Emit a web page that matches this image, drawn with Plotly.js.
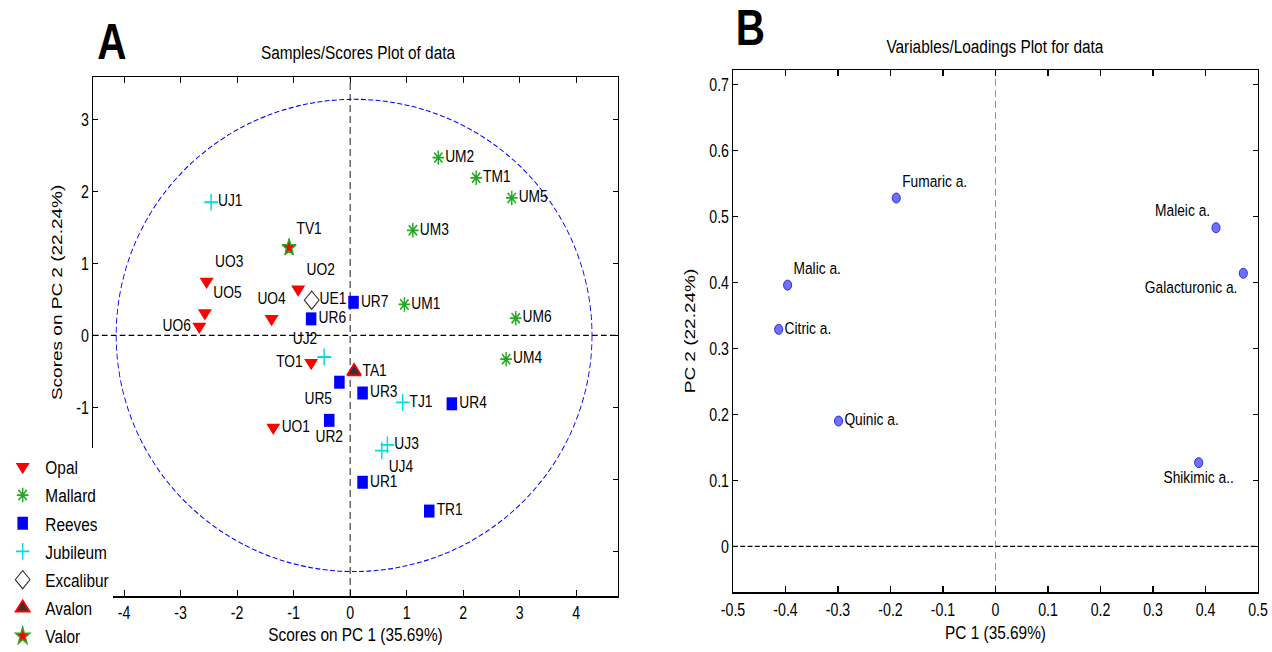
<!DOCTYPE html>
<html>
<head>
<meta charset="utf-8">
<script src="https://cdn.plot.ly/plotly-3.0.1.min.js"></script>
<style>
html,body{margin:0;padding:0;background:#fff;overflow:hidden;width:1272px;height:652px;}
#chart{width:1570px;height:652px;transform:scaleX(0.8102);transform-origin:0 0;}
</style>
</head>
<body>
<div id="chart"></div>
<script>
// ---------- Scores (panel A) ----------
const opalLabels = ['UO1','UO2','UO3','UO4','UO5','UO6','TO1'];
const opalX = [-1.36, -0.92, -2.54, -1.39, -2.57, -2.67, -0.69];
const opalY = [-1.28, 0.64, 0.75, 0.23, 0.31, 0.125, -0.38];

const mallardLabels = ['UM1','UM2','UM3','UM4','UM5','UM6','TM1'];
const mallardX = [0.96, 1.56, 1.11, 2.76, 2.86, 2.93, 2.23];
const mallardY = [0.43, 2.47, 1.46, -0.33, 1.91, 0.24, 2.19];

const reevesLabels = ['UR1','UR2','UR3','UR4','UR5','UR6','UR7','TR1'];
const reevesX = [0.22, -0.37, 0.22, 1.80, -0.19, -0.69, 0.06, 1.40];
const reevesY = [-2.04, -1.18, -0.80, -0.95, -0.65, 0.23, 0.46, -2.44];

const jubileumLabels = ['UJ1','UJ2','UJ3','UJ4','TJ1'];
const jubileumX = [-2.46, -0.46, 0.66, 0.56, 0.93];
const jubileumY = [1.85, -0.30, -1.52, -1.60, -0.93];

const excaliburLabels = ['UE1'];
const excaliburX = [-0.68];
const excaliburY = [0.49];

const avalonLabels = ['TA1'];
const avalonX = [0.07];
const avalonY = [-0.50];

const valorLabels = ['TV1'];
const valorX = [-1.08];
const valorY = [1.22];

const scoreXTicks = [-4, -3, -2, -1, 0, 1, 2, 3, 4];
const scoreXTickText = ['-4','-3','-2','-1','0','1','2','3','4'];
const scoreYTicks = [-3, -2, -1, 0, 1, 2, 3];
const scoreYTickText = ['','','-1','0','1','2','3'];

// ---------- Loadings (panel B) ----------
const variables = ['Fumaric a.','Maleic a.','Galacturonic a.','Malic a.','Citric a.','Quinic a.','Shikimic a..'];
const loadPC1 = [-0.189, 0.420, 0.472, -0.396, -0.413, -0.299, 0.387];
const loadPC2 = [0.528, 0.483, 0.414, 0.396, 0.329, 0.190, 0.127];

const loadXTicks = [-0.5,-0.4,-0.3,-0.2,-0.1,0,0.1,0.2,0.3,0.4,0.5];
const loadXTickText = ['-0.5','-0.4','-0.3','-0.2','-0.1','0','0.1','0.2','0.3','0.4','0.5'];
const loadYTicks = [0,0.1,0.2,0.3,0.4,0.5,0.6,0.7];
const loadYTickText = ['0','0.1','0.2','0.3','0.4','0.5','0.6','0.7'];

// ---------- styles ----------
const FONT = 'Liberation Sans, Arial, sans-serif';
const W = 1272, H = 652;
const labelPos = {
  UO2:'top right', UO3:'top right', UO4:'top center', UO5:'top right',
  UO6:'middle left', TO1:'middle left', UJ2:'top left', UR5:'bottom left',
  UR2:'bottom center', UJ4:'bottom right', TV1:'top right'
};
const varPos = {
  'Fumaric a.':'top right', 'Maleic a.':'top left', 'Galacturonic a.':'bottom left',
  'Malic a.':'top right', 'Citric a.':'middle right', 'Quinic a.':'middle right',
  'Shikimic a..':'bottom center'
};
function pos(labels){ return labels.map(l => labelPos[l] || 'middle right'); }

function group(name, labels, x, y, marker){
  return {
    type:'scatter', mode:'markers+text', name:name, legendgroup:name,
    x:x, y:y, text:labels, textposition:pos(labels),
    textfont:{family:FONT, size:17, color:'#000'},
    marker:marker, xaxis:'x', yaxis:'y', cliponaxis:false, hoverinfo:'text'
  };
}

const traces = [
  group('Opal', opalLabels, opalX, opalY, {symbol:'triangle-down', size:15, color:'#ff0000', line:{width:0}}),
  group('Mallard', mallardLabels, mallardX, mallardY, {symbol:'asterisk-open', size:12, color:'#22aa22', line:{color:'#22aa22', width:1.8}}),
  group('Reeves', reevesLabels, reevesX, reevesY, {symbol:'square', size:13, color:'#0000ff', line:{width:0}}),
  group('Jubileum', jubileumLabels, jubileumX, jubileumY, {symbol:'cross-thin-open', size:12, color:'#00dddd', line:{color:'#11dddd', width:1.8}}),
  group('Excalibur', excaliburLabels, excaliburX, excaliburY, {symbol:'diamond-open', size:14, color:'#333333', line:{color:'#333333', width:1.3}}),
  group('Avalon', avalonLabels, avalonX, avalonY, {symbol:'triangle-up', size:15, color:'#333333', line:{color:'#ff0000', width:2}}),
  group('Valor', valorLabels, valorX, valorY, {symbol:'star', size:13, color:'#ff0000', line:{color:'#22aa22', width:1.6}}),
  {
    type:'scatter', mode:'markers+text', name:'Loadings', showlegend:false,
    x:loadPC1, y:loadPC2, text:variables, textposition:variables.map(v => varPos[v]),
    textfont:{family:FONT, size:17, color:'#000'},
    marker:{symbol:'circle', size:10, color:'#7070ff', line:{color:'#2020cc', width:1}},
    xaxis:'x2', yaxis:'y2', cliponaxis:false, hoverinfo:'text'
  }
];

const axisBase = {
  showline:true, linecolor:'#000', linewidth:1.5, mirror:'ticks',
  ticks:'inside', ticklen:6, tickwidth:1.3, tickcolor:'#000',
  showgrid:false, zeroline:false, tickmode:'array',
  tickfont:{family:FONT, size:17.5, color:'#000'}
};

const layout = {
  width:1570, height:H, paper_bgcolor:'#fff', plot_bgcolor:'#fff',
  margin:{l:0, r:0, t:0, b:0, autoexpand:false},
  font:{family:FONT, color:'#000'},
  showlegend:true,
  legend:{x:0, xanchor:'left', y:-3/H, yanchor:'bottom', bgcolor:'#ffffff', borderwidth:0,
          font:{family:FONT, size:19, color:'#000'}, tracegroupgap:0.5, itemwidth:46},
  xaxis:Object.assign({}, axisBase, {domain:[93/W, 618/W], range:[-4.55, 4.74], anchor:'y',
          tickvals:scoreXTicks, ticktext:scoreXTickText, ticklabelstandoff:1,
          title:{text:'Scores on PC 1 (35.69%)', font:{family:FONT, size:19, color:'#000'}, standoff:5}}),
  yaxis:Object.assign({}, axisBase, {domain:[1-596/H, 1-77/H], range:[-3.62, 3.59], anchor:'x',
          tickvals:scoreYTicks, ticktext:scoreYTickText}),
  xaxis2:Object.assign({}, axisBase, {domain:[733/W, 1258/W], range:[-0.5, 0.5], anchor:'y2',
          tickvals:loadXTicks, ticktext:loadXTickText, ticklabelstandoff:2,
          title:{text:'PC 1 (35.69%)', font:{family:FONT, size:19, color:'#000'}, standoff:6}}),
  yaxis2:Object.assign({}, axisBase, {domain:[1-592/H, 1-70/H], range:[-0.069, 0.722], anchor:'x2',
          tickvals:loadYTicks, ticktext:loadYTickText,
          title:{text:'PC 2 (22.24%)', font:{family:FONT, size:19, color:'#000'}, standoff:12}}),
  shapes:[
    {type:'line', xref:'x', yref:'y domain', x0:0, x1:0, y0:0, y1:1, line:{color:'#000', width:1.1, dash:'7px,4px'}, layer:'below'},
    {type:'line', xref:'x domain', yref:'y', x0:0, x1:1, y0:0, y1:0, line:{color:'#000', width:1.1, dash:'7px,4px'}, layer:'below'},
    {type:'circle', xref:'x', yref:'y', x0:-4.14, x1:4.28, y0:-3.28, y1:3.28, line:{color:'#0000ff', width:1.1, dash:'6px,3px'}, layer:'below'},
    {type:'line', xref:'x2', yref:'y2 domain', x0:0, x1:0, y0:0, y1:1, line:{color:'#888', width:1, dash:'7px,4px'}, layer:'below'},
    {type:'line', xref:'x2 domain', yref:'y2', x0:0, x1:1, y0:0, y1:0, line:{color:'#000', width:1.3, dash:'6px,3px'}, layer:'below'}
  ],
  annotations:[
    {text:'<b>A</b>', xref:'paper', yref:'paper', x:112/W, y:1-42/H, xanchor:'center', yanchor:'middle', showarrow:false, font:{family:FONT, size:50, color:'#000'}},
    {text:'<b>B</b>', xref:'paper', yref:'paper', x:750/W, y:1-28/H, xanchor:'center', yanchor:'middle', showarrow:false, font:{family:FONT, size:50, color:'#000'}},
    {text:'Samples/Scores Plot of data', xref:'paper', yref:'paper', x:358/W, y:1-53/H, xanchor:'center', yanchor:'middle', showarrow:false, font:{family:FONT, size:19, color:'#000'}},
    {text:'Variables/Loadings Plot for data', xref:'paper', yref:'paper', x:995/W, y:1-46/H, xanchor:'center', yanchor:'middle', showarrow:false, font:{family:FONT, size:19, color:'#000'}},
    {text:'Scores on PC 2 (22.24%)', xref:'paper', yref:'paper', x:56/W, y:1-293/H, xanchor:'center', yanchor:'middle', textangle:-90, showarrow:false, font:{family:FONT, size:19, color:'#000'}}
  ]
};

Plotly.newPlot('chart', traces, layout, {displayModeBar:false, staticPlot:true});
</script>
</body>
</html>
